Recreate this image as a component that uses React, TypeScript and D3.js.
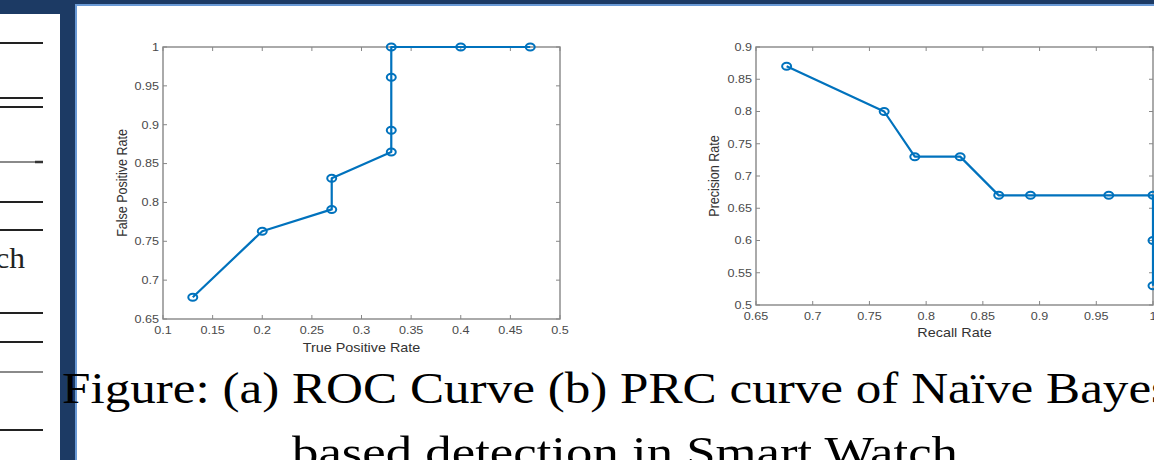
import React from 'react';
import * as d3 from 'd3';

// ROC curve (a)
const rocTpr = [0.13, 0.2, 0.27, 0.27, 0.33, 0.33, 0.33, 0.33, 0.4, 0.47];
const rocFpr = [0.678, 0.763, 0.791, 0.831, 0.865, 0.893, 0.961, 1.0, 1.0, 1.0];
const rocXTicks = [0.1, 0.15, 0.2, 0.25, 0.3, 0.35, 0.4, 0.45, 0.5];
const rocYTicks = [0.65, 0.7, 0.75, 0.8, 0.85, 0.9, 0.95, 1];

// PRC curve (b)
const prcRecall = [0.677, 0.763, 0.79, 0.83, 0.864, 0.892, 0.961, 1.0, 1.0, 1.0];
const prcPrecision = [0.87, 0.8, 0.73, 0.73, 0.67, 0.67, 0.67, 0.67, 0.6, 0.53];
const prcXTicks = [0.65, 0.7, 0.75, 0.8, 0.85, 0.9, 0.95, 1];
const prcYTicks = [0.5, 0.55, 0.6, 0.65, 0.7, 0.75, 0.8, 0.85, 0.9];

const captionLines = [
  'Figure: (a) ROC Curve (b) PRC curve of Naïve Bayes',
  'based detection in Smart Watch',
];

// table rules of the slide behind, on the left
const sideRules = [
  { y: 43, c: '#222' }, { y: 98, c: '#222' }, { y: 107, c: '#222' },
  { y: 162, c: '#8a8a8a' }, { y: 202, c: '#222' }, { y: 230, c: '#222' },
  { y: 313, c: '#222' }, { y: 342, c: '#222' }, { y: 372, c: '#8a8a8a' },
  { y: 430, c: '#222' },
];

const W = 1154;
const H = 460;
const LINE = '#0072bd';
const AXIS = '#878787';
const TICKTXT = '#4a4a4a';
const SANS = "'Liberation Sans', Arial, Helvetica, sans-serif";
const SERIF = "'Liberation Serif', 'DejaVu Serif', serif";
const SX = 1.2; // slide is stretched a little sideways

const fmt = d3.format('~g');

type PanelProps = {
  left: number; right: number; top: number; bottom: number;
  xDomain: [number, number]; yDomain: [number, number];
  xTicks: number[]; yTicks: number[];
  xs: number[]; ys: number[];
  xLabel: string; yLabel: string;
  xTickY: number; xLabelY: number; yLabelX: number;
};

const CurvePanel = (p: PanelProps) => {
  const x = d3.scaleLinear().domain(p.xDomain).range([p.left, p.right]);
  const y = d3.scaleLinear().domain(p.yDomain).range([p.bottom, p.top]);
  const pts = p.xs.map((v, i) => [x(v), y(p.ys[i])] as [number, number]);
  const path = d3.line()(pts) || '';
  const tk = 4;

  return (
    <g>
      <rect x={p.left} y={p.top} width={p.right - p.left} height={p.bottom - p.top}
        fill="#fff" stroke={AXIS} strokeWidth={1.4} />
      {p.xTicks.map(t => (
        <g key={'x' + t}>
          <line x1={x(t)} x2={x(t)} y1={p.bottom} y2={p.bottom - tk} stroke={AXIS} strokeWidth={1} />
          <line x1={x(t)} x2={x(t)} y1={p.top} y2={p.top + tk} stroke={AXIS} strokeWidth={1} />
          <text transform={`translate(${x(t)},${p.xTickY}) scale(${SX},1)`} textAnchor="middle"
            fontFamily={SANS} fontSize={10.5} fill={TICKTXT}>{fmt(t)}</text>
        </g>
      ))}
      {p.yTicks.map(t => (
        <g key={'y' + t}>
          <line x1={p.left} x2={p.left + tk} y1={y(t)} y2={y(t)} stroke={AXIS} strokeWidth={1} />
          <line x1={p.right} x2={p.right - tk} y1={y(t)} y2={y(t)} stroke={AXIS} strokeWidth={1} />
          <text transform={`translate(${p.left - 4},${y(t) + 3.8}) scale(${SX},1)`} textAnchor="end"
            fontFamily={SANS} fontSize={10.5} fill={TICKTXT}>{fmt(t)}</text>
        </g>
      ))}
      <text transform={`translate(${(p.left + p.right) / 2},${p.xLabelY}) scale(1.15,1)`}
        textAnchor="middle" fontFamily={SANS} fontSize={12.5} fill="#333">{p.xLabel}</text>
      <text transform={`translate(${p.yLabelX},${(p.top + p.bottom) / 2}) rotate(-90) scale(1,1.15)`}
        textAnchor="middle" fontFamily={SANS} fontSize={12.5} fill="#333">{p.yLabel}</text>
      <path d={path} fill="none" stroke={LINE} strokeWidth={2.2} strokeLinejoin="round" />
      {pts.map(([cx, cy], i) => (
        <ellipse key={i} cx={cx} cy={cy} rx={4.5} ry={3.5} fill="none" stroke={LINE} strokeWidth={2} />
      ))}
    </g>
  );
};

export default function App() {
  return (
    <div style={{ position: 'fixed', left: 0, top: 0 }}>
      <svg width={W} height={H} style={{ display: 'block' }}>
        <rect x={0} y={0} width={W} height={H} fill="#1c3a64" />
        {/* left slide strip */}
        <rect x={0} y={14} width={60} height={H - 14} fill="#fff" />
        {sideRules.map((r, i) => (
          <line key={i} x1={0} x2={43} y1={r.y} y2={r.y} stroke={r.c} strokeWidth={2} />
        ))}
        <line x1={35} x2={43} y1={162} y2={162} stroke="#333" strokeWidth={2.5} />
        <text transform="translate(25,268) scale(1.05,1)" textAnchor="end" fontFamily={SERIF}
          fontSize={30} fill="#222">Watch</text>
        {/* main panel */}
        <rect x={75} y={4} width={W - 75} height={H - 4} fill="#6a9ad6" />
        <rect x={77} y={6} width={W - 77} height={H - 6} fill="#fff" />

        <CurvePanel left={163} right={560} top={47} bottom={319}
          xDomain={[0.1, 0.5]} yDomain={[0.65, 1]}
          xTicks={rocXTicks} yTicks={rocYTicks}
          xs={rocTpr} ys={rocFpr}
          xLabel="True Positive Rate" yLabel="False Positive Rate"
          xTickY={334} xLabelY={352} yLabelX={127} />

        <CurvePanel left={756} right={1153} top={47} bottom={305}
          xDomain={[0.65, 1]} yDomain={[0.5, 0.9]}
          xTicks={prcXTicks} yTicks={prcYTicks}
          xs={prcRecall} ys={prcPrecision}
          xLabel="Recall Rate" yLabel="Precision Rate"
          xTickY={320} xLabelY={337} yLabelX={719} />

        <text x={62} y={403} fontFamily={SERIF} fontSize={44} fill="#000"
          textLength={1109} lengthAdjust="spacingAndGlyphs">{captionLines[0]}</text>
        <text x={292} y={467} fontFamily={SERIF} fontSize={44} fill="#000"
          textLength={666} lengthAdjust="spacingAndGlyphs">{captionLines[1]}</text>
      </svg>
    </div>
  );
}
